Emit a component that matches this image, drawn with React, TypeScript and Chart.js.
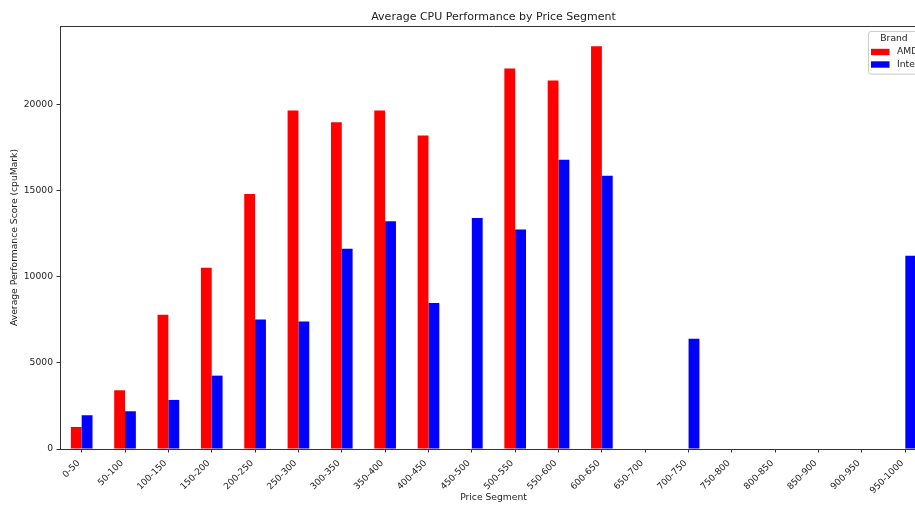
import React, { useEffect, useRef } from 'react';
import { Chart, registerables } from 'chart.js';

Chart.register(...registerables);

const categories = [
  '0-50', '50-100', '100-150', '150-200', '200-250', '250-300', '300-350', '350-400',
  '400-450', '450-500', '500-550', '550-600', '600-650', '650-700', '700-750', '750-800',
  '800-850', '850-900', '900-950', '950-1000',
];
const amdScores: (number | null)[] = [
  1280, 3410, 7790, 10520, 14810, 19650, 18970, 19650,
  18200, null, 22090, 21400, 23390, null, null, null,
  null, null, null, null,
];
const intelScores: (number | null)[] = [
  1960, 2190, 2850, 4260, 7520, 7400, 11630, 13220,
  8470, 13410, 12750, 16790, 15870, null, 6400, null,
  null, null, null, 11220,
];
const brandNames = ['AMD', 'Intel'];
const yTickValues = [0, 5000, 10000, 15000, 20000];
const yAxisMax = 24560;

const FONT = 'DejaVu Sans';
const TEXT = '#222222';
const SPINE = '#333333';

const spinePlugin = {
  id: 'spines',
  afterDraw(chart: any) {
    const { ctx, chartArea } = chart;
    ctx.save();
    ctx.strokeStyle = SPINE;
    ctx.lineWidth = 1;
    ctx.beginPath();
    const t = Math.round(chartArea.top) + 0.5;
    const r = Math.round(chartArea.right) - 0.5;
    ctx.moveTo(chartArea.left, t);
    ctx.lineTo(chartArea.right, t);
    ctx.moveTo(r, chartArea.top);
    ctx.lineTo(r, chartArea.bottom);
    ctx.stroke();
    ctx.restore();
  },
};

const legendPlugin = {
  id: 'mplLegend',
  afterDraw(chart: any) {
    const { ctx, chartArea } = chart;
    const datasets = chart.data.datasets;
    const right = chartArea.right - 5;
    const width = 54;
    const left = right - width;
    const top = chartArea.top + 4.7;
    const height = 42.6;
    ctx.save();
    ctx.beginPath();
    if (ctx.roundRect) {
      ctx.roundRect(Math.round(left) + 0.5, Math.round(top) + 0.5, width, height, 2.5);
    } else {
      ctx.rect(Math.round(left) + 0.5, Math.round(top) + 0.5, width, height);
    }
    ctx.fillStyle = 'rgba(255,255,255,0.8)';
    ctx.fill();
    ctx.strokeStyle = '#cccccc';
    ctx.lineWidth = 1;
    ctx.stroke();

    ctx.font = `9.2px "${FONT}"`;
    ctx.fillStyle = TEXT;
    ctx.textBaseline = 'middle';
    ctx.textAlign = 'center';
    ctx.fillText('Brand', left + width / 2 - 1, top + 8);
    ctx.textAlign = 'left';
    datasets.forEach((ds: any, i: number) => {
      const cy = top + 21.3 + i * 12.5;
      ctx.fillStyle = ds.backgroundColor;
      ctx.fillRect(left + 3, cy - 3.2, 18.5, 6.4);
      ctx.fillStyle = TEXT;
      ctx.fillText(ds.label, left + 29, cy);
    });
    ctx.restore();
  },
};

export default function App() {
  const canvasRef = useRef<HTMLCanvasElement | null>(null);

  useEffect(() => {
    if (!canvasRef.current) return;
    const chart = new Chart(canvasRef.current, {
      type: 'bar',
      data: {
        labels: categories,
        datasets: [
          {
            label: brandNames[0],
            data: amdScores,
            backgroundColor: '#ff0000',
            borderWidth: 0,
            categoryPercentage: 0.5,
            barPercentage: 1.0,
          },
          {
            label: brandNames[1],
            data: intelScores,
            backgroundColor: '#0000ff',
            borderWidth: 0,
            categoryPercentage: 0.5,
            barPercentage: 1.0,
          },
        ],
      },
      options: {
        responsive: false,
        animation: false,
        events: [],
        layout: { padding: { left: 0, right: 8, top: 0, bottom: 0 } },
        plugins: {
          legend: { display: false },
          tooltip: { enabled: false },
          title: {
            display: true,
            text: 'Average CPU Performance by Price Segment',
            fullSize: false,
            color: TEXT,
            font: { family: FONT, size: 11, weight: 'normal' },
            padding: { top: 11, bottom: 1.8 },
          },
        },
        scales: {
          x: {
            offset: true,
            grid: {
              display: true,
              offset: false,
              drawOnChartArea: false,
              drawTicks: true,
              tickLength: 3.5,
              tickColor: SPINE,
              tickWidth: 1,
            },
            border: { display: true, color: SPINE, width: 1 },
            ticks: {
              autoSkip: false,
              minRotation: 45,
              maxRotation: 45,
              padding: 5.5,
              labelOffset: -3,
              color: TEXT,
              font: { family: FONT, size: 9 },
            },
            title: {
              display: true,
              text: 'Price Segment',
              color: TEXT,
              font: { family: FONT, size: 9.2 },
              padding: { top: 0, bottom: 1.5 },
            },
            afterFit: (s: any) => {
              s.height = 56;
            },
          },
          y: {
            min: 0,
            max: yAxisMax,
            grid: {
              display: true,
              drawOnChartArea: false,
              drawTicks: true,
              tickLength: 3.5,
              tickColor: SPINE,
              tickWidth: 1,
            },
            border: { display: true, color: SPINE, width: 1 },
            ticks: {
              padding: 3.5,
              color: TEXT,
              font: { family: FONT, size: 9.2 },
              callback: (v: any) => String(v),
            },
            afterBuildTicks: (s: any) => {
              s.ticks = yTickValues.map((v) => ({ value: v }));
            },
            title: {
              display: true,
              text: 'Average Performance Score (cpuMark)',
              color: TEXT,
              font: { family: FONT, size: 9.2 },
              padding: { top: 9, bottom: 0 },
            },
            afterFit: (s: any) => {
              s.width = 60;
            },
          },
        },
      },
      plugins: [spinePlugin, legendPlugin],
    });
    return () => chart.destroy();
  }, []);

  return (
    <div
      style={{
        position: 'fixed',
        left: 0,
        top: 0,
        width: 915,
        height: 505,
        overflow: 'hidden',
        background: '#ffffff',
      }}
    >
      <canvas ref={canvasRef} width={935} height={505} style={{ display: 'block', width: 935, height: 505 }} />
    </div>
  );
}
